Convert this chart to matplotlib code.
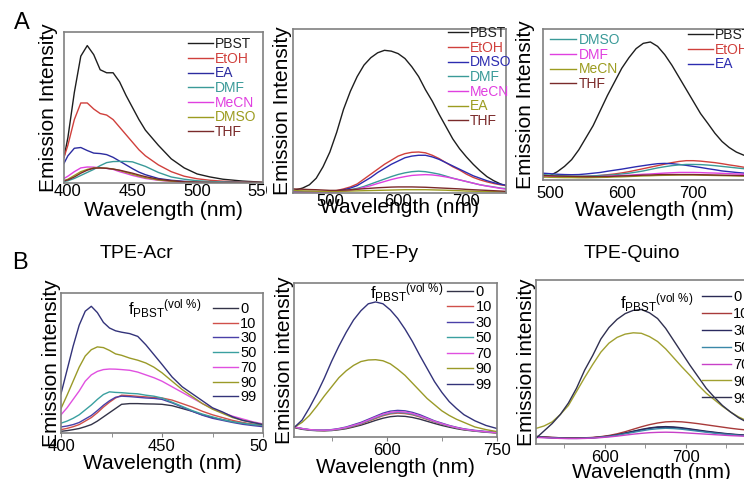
import matplotlib
matplotlib.use('Agg')
import matplotlib.pyplot as plt
from matplotlib.transforms import Bbox, TransformedBbox

plt.rcParams['font.family'] = ['Liberation Sans', 'DejaVu Sans']
plt.rcParams['mathtext.fontset'] = 'custom'
plt.rcParams['mathtext.rm'] = 'Liberation Sans'
plt.rcParams['mathtext.it'] = 'Liberation Sans:italic'

#%% Data (intensities in % of each panel height)
# A, left: TPE-Acr in solvents
acr_solv_wl = [397, 400, 405, 410, 415, 420, 425, 430, 435, 440, 445, 450, 455, 460, 470, 480, 490, 500, 510, 520, 535, 551]
acr_pbst = [17, 30, 60, 84, 91, 85, 75, 73, 73, 67, 58, 50, 42, 35, 25, 16, 10, 6, 4, 2.5, 1.3, 0.5]
acr_etoh = [17, 25, 42, 53, 53, 49, 46, 45, 42, 37, 32, 27, 22, 18, 12, 7.5, 4.5, 2.8, 1.8, 1.2, 0.7, 0.3]
acr_ea = [13, 18, 23, 23.5, 21.5, 19.8, 19.5, 18.8, 17, 14.5, 12, 9.5, 7.2, 5.5, 3, 1.8, 1.1, 0.7, 0.5, 0.4, 0.3, 0.2]
acr_dmf = [1, 1.5, 3, 5, 7, 9, 11.5, 13.5, 14.2, 14.3, 14.3, 14, 12.5, 11, 7, 4, 2.5, 1.5, 1, 0.6, 0.4, 0.2]
acr_mecn = [3, 4.5, 7.5, 10, 10.6, 10.5, 10, 9.7, 9, 7.5, 6.3, 5, 4, 3, 1.8, 1, 0.6, 0.4, 0.3, 0.2, 0.1, 0.1]
acr_dmso = [1.5, 2.5, 5, 7.5, 9, 10, 10, 9.8, 9.3, 8.3, 7, 5.8, 4.6, 3.5, 2, 1.2, 0.7, 0.4, 0.3, 0.2, 0.1, 0.1]
acr_thf = [1.5, 2, 4, 6.5, 8.5, 9.8, 10, 9.7, 9.2, 8.5, 7.5, 6.5, 5.3, 4.2, 2.5, 1.5, 0.8, 0.5, 0.3, 0.2, 0.1, 0.1]

# A, middle: TPE-Py in solvents
py_solv_wl = [446, 460, 470, 480, 490, 500, 510, 520, 530, 540, 550, 560, 570, 580, 590, 600,
              610, 620, 630, 640, 650, 660, 670, 680, 690, 700, 710, 720, 730, 740, 750, 758]
py_pbst = [1.5, 3, 5, 9, 16, 25, 37, 51, 62, 71, 78, 82.5, 85.5, 87, 86.5, 85,
           82, 77, 71, 63, 56, 48, 40.5, 33, 27, 22, 17.5, 13.5, 10, 7.5, 5.5, 4.5]
py_etoh = [1, 0.9, 0.8, 0.8, 0.9, 1, 1.5, 2.5, 3.7, 5.5, 8.5, 11.5, 14.5, 17.5, 20, 22.5,
           24, 24.8, 25, 24.5, 23, 21, 18.5, 16, 14, 11.5, 9.5, 8, 6.8, 5.8, 5, 4.5]
py_dmso = [1, 0.8, 0.6, 0.6, 0.7, 0.8, 1.2, 2, 3, 4.5, 7, 9.5, 12.5, 15, 17.5, 19.5,
           21.5, 22.5, 23, 23, 22, 20.5, 18.5, 16.5, 14.5, 12.5, 10.5, 9, 7.5, 6.3, 5.3, 4.7]
py_dmf = [0.5, 0.5, 0.5, 0.5, 0.5, 0.5, 0.8, 1.2, 2, 2.8, 4, 5.5, 7, 8.5, 10, 11.3,
          12.3, 13, 13.3, 13, 12.3, 11.5, 10.3, 9, 8, 7, 6, 5, 4.3, 3.7, 3, 2.7]
py_mecn = [0.5, 0.4, 0.4, 0.4, 0.4, 0.4, 0.6, 1, 1.6, 2.3, 3.4, 4.5, 5.8, 7, 8.2, 9.2,
           10, 10.7, 11, 11.2, 11, 10.5, 9.8, 9, 8, 7, 6, 5, 4.2, 3.5, 2.8, 2.3]
py_ea = [1.5, 1.3, 1.2, 1.1, 1, 1, 1, 1.1, 1.2, 1.3, 1.4, 1.5, 1.6, 1.7, 1.8, 1.9,
         2, 2, 2, 2, 1.9, 1.8, 1.7, 1.5, 1.4, 1.2, 1.1, 1, 0.9, 0.8, 0.7, 0.6]
py_thf = [2.5, 2.3, 2.1, 2, 1.8, 1.6, 1.6, 1.8, 2, 2.3, 2.6, 2.9, 3.2, 3.4, 3.6, 3.7,
          3.7, 3.7, 3.6, 3.5, 3.3, 3.1, 2.9, 2.7, 2.5, 2.2, 2, 1.8, 1.6, 1.4, 1.2, 1]

# A, right: TPE-Quino in solvents
qu_solv_wl = [490, 500, 510, 520, 530, 540, 550, 560, 570, 580, 590, 600, 610, 620, 630, 640,
              650, 660, 670, 680, 690, 700, 710, 720, 730, 740, 750, 760, 770, 780, 800]
qu_pbst = [2, 3, 5.5, 9, 13.5, 20, 28, 36, 46, 56, 65, 74, 81, 87, 90.5, 91.4,
           88.5, 83, 76, 68, 60, 52, 44, 37.6, 31, 25.5, 21.5, 18.5, 16.5, 15, 12]
qu_etoh = [3, 2.8, 2.5, 2.4, 2.3, 2.3, 2.5, 2.7, 3, 3.5, 4, 4.7, 5.5, 6.5, 7.5, 8.5,
           9.5, 10.5, 11.5, 12.3, 12.8, 12.8, 12.5, 12, 11.5, 10.8, 10, 9.3, 8.5, 7.8, 6.5]
qu_ea = [4.5, 4.2, 3.8, 3.6, 3.5, 3.6, 4, 4.5, 5, 5.8, 6.5, 7.2, 8, 8.8, 9.5, 10.2,
         10.8, 11, 10.8, 10.3, 9.7, 9, 8.3, 7.5, 6.8, 6, 5.5, 5, 4.6, 4.2, 3.5]
qu_dmso = [3.5, 3.3, 3, 2.8, 2.5, 2.5, 2.5, 2.7, 3, 3.2, 3.5, 4, 4.5, 5.2, 6, 7,
           8, 8.8, 9.5, 10, 10.3, 10.3, 10.2, 9.9, 9.5, 9, 8.5, 8, 7.5, 7, 6]
qu_dmf = [2.5, 2.3, 2.1, 2, 2, 2, 2, 2.1, 2.3, 2.5, 2.8, 3, 3.2, 3.5, 3.8, 4,
          4.3, 4.6, 4.8, 5, 5, 5, 4.9, 4.7, 4.6, 4.4, 4.2, 4, 3.8, 3.5, 3]
qu_mecn = [2, 1.8, 1.7, 1.6, 1.6, 1.5, 1.5, 1.6, 1.7, 1.8, 2, 2.1, 2.3, 2.5, 2.7, 2.8,
           3, 3.1, 3.2, 3.3, 3.3, 3.3, 3.2, 3.1, 3, 2.9, 2.8, 2.7, 2.6, 2.5, 2.2]
qu_thf = [3, 2.8, 2.6, 2.5, 2.4, 2.3, 2.2, 2.2, 2.3, 2.3, 2.5, 2.7, 2.8, 3, 3.2, 3.3,
          3.5, 3.6, 3.6, 3.6, 3.6, 3.6, 3.5, 3.4, 3.3, 3.2, 3.1, 3, 2.9, 2.8, 2.5]

# B, left: TPE-Acr vs PBST fraction
acr_f_wl = [400, 403, 406, 409, 412, 415, 418, 421, 424, 427, 430, 434, 438, 442, 446, 450,
            455, 460, 465, 470, 475, 480, 485, 490, 495, 500]
acr_f0 = [1.2, 1.7, 2.4, 3.2, 4.5, 6, 8.5, 11.5, 14.5, 17.5, 20.5, 21, 21, 20.8, 20.7, 20.5,
          19.5, 17.5, 15.5, 13, 11, 9.5, 8, 7, 6.2, 5.5]
acr_f10 = [2.4, 3.3, 4.5, 6, 8.5, 11, 14.5, 18.5, 22, 25, 27, 26.7, 26.2, 25.8, 25.3, 25,
           23.5, 21, 18.5, 15.5, 13, 11, 9, 7.5, 6.2, 5]
acr_f30 = [4.3, 5, 6, 7.5, 10, 12.5, 16, 19.8, 23, 25.5, 26.3, 26, 25.5, 25, 24.7, 24,
           21.5, 18.5, 15.5, 12.7, 10.5, 9, 7.5, 6.2, 5.3, 4.5]
acr_f50 = [7, 8.5, 10.5, 13, 16.5, 20, 24, 27.5, 29.4, 29, 28.8, 28.3, 28, 27, 26.3, 25,
           22, 19, 16, 13.5, 11.5, 9.5, 8, 7, 6, 5.5]
acr_f70 = [13, 18, 24, 30, 37, 41.5, 44, 45.3, 45.7, 45.6, 45.3, 44.8, 43.5, 41.5, 39.5, 37,
           33, 29, 25, 21, 17.5, 14.5, 12, 10, 8, 6.5]
acr_f90 = [17.5, 27, 37, 47, 55, 59.5, 61.5, 61, 59, 56.5, 55.5, 53.5, 52, 50, 47, 43,
           37, 31, 26, 21, 17, 14, 11, 9, 7.5, 6]
acr_f99 = [28, 45, 62, 77, 87, 90.5, 86, 79, 75, 73, 72, 71, 69, 63, 56, 49,
           40, 33, 28, 23, 18, 15, 11.5, 9, 7.5, 6]

# B, middle: TPE-Py vs PBST fraction
py_f_wl = [475, 485, 495, 505, 515, 525, 535, 545, 555, 565, 575, 585, 595, 605, 615, 625,
           635, 645, 655, 665, 675, 685, 695, 705, 720, 735, 750]
py_f0 = [6, 5, 4.4, 4.1, 4, 4.2, 4.7, 5.4, 6.5, 7.7, 9.2, 10.8, 12.2, 13.2, 13.6, 13.4,
         12.7, 11.6, 10.2, 8.8, 7.5, 6.4, 5.4, 4.6, 3.8, 3.1, 2.6]
py_f10 = [6.3, 5.3, 4.6, 4.3, 4.2, 4.4, 5, 5.8, 7, 8.4, 10.2, 12, 13.8, 15, 15.5, 15.2,
          14.4, 13, 11.4, 9.8, 8.3, 7, 5.9, 4.9, 4, 3.3, 2.7]
py_f30 = [6.5, 5.5, 4.8, 4.5, 4.5, 4.8, 5.5, 6.5, 8, 9.5, 11.5, 13.5, 15.5, 16.8, 17.3, 17,
          16, 14.5, 12.5, 10.5, 9, 7.5, 6.3, 5.3, 4.3, 3.6, 3]
py_f50 = [6.5, 5.4, 4.7, 4.4, 4.3, 4.5, 5.1, 6, 7.3, 8.7, 10.6, 12.5, 14.3, 15.5, 16, 15.7,
          14.8, 13.4, 11.7, 10, 8.5, 7.1, 6, 5, 4, 3.3, 2.8]
py_f70 = [6.5, 5.5, 4.8, 4.5, 4.4, 4.6, 5.3, 6.2, 7.6, 9, 11, 13, 14.8, 16, 16.5, 16.2,
          15.3, 13.8, 12, 10.2, 8.7, 7.3, 6.1, 5.1, 4.1, 3.4, 2.8]
py_f90 = [6.5, 9.5, 14, 20, 26.5, 32.5, 38.5, 43, 46.5, 49, 50, 50.2, 49.5, 47.5, 44, 40,
          35, 30, 25, 21, 17, 14, 11.5, 9.5, 6.5, 4.8, 3.5]
py_f99 = [6.5, 11, 19, 28, 38, 49, 59, 68, 76, 82, 86.5, 87.7, 86.5, 82.5, 77, 70,
          62, 53, 44.5, 36, 29, 23, 18.5, 14.5, 10.5, 7.5, 5.5]

# B, right: TPE-Quino vs PBST fraction
qu_f_wl = [515, 525, 535, 545, 555, 565, 575, 585, 595, 605, 615, 625, 635, 645, 655, 665,
           675, 685, 695, 705, 715, 725, 735, 745, 755, 765, 780, 800]
qu_f0 = [4.6, 4.3, 4, 3.8, 3.6, 3.6, 3.7, 3.9, 4.3, 4.9, 5.7, 6.7, 7.8, 8.9, 9.8, 10.4,
         10.6, 10.4, 9.9, 9.2, 8.5, 7.8, 7.2, 6.6, 6.1, 5.7, 5.2, 4.7]
qu_f10 = [4.6, 4.3, 4, 3.8, 3.7, 3.7, 3.8, 4, 4.5, 5.2, 6.2, 7.5, 9, 10.5, 11.8, 12.8,
          13.5, 13.7, 13.5, 13, 12.4, 11.7, 11, 10.3, 9.6, 9, 8.3, 7.5]
qu_f30 = [4.4, 4.1, 3.8, 3.6, 3.5, 3.5, 3.6, 3.8, 4.2, 4.8, 5.6, 6.6, 7.6, 8.6, 9.5, 10.1,
          10.2, 10, 9.5, 8.9, 8.2, 7.5, 6.9, 6.4, 5.9, 5.5, 5, 4.5]
qu_f50 = [4.2, 4, 3.7, 3.5, 3.4, 3.4, 3.5, 3.7, 4.1, 4.6, 5.3, 6.2, 7.1, 8, 8.8, 9.3,
          9.6, 9.4, 9, 8.4, 7.8, 7.2, 6.6, 6.1, 5.7, 5.3, 4.8, 4.3]
qu_f70 = [4, 3.8, 3.6, 3.4, 3.3, 3.3, 3.4, 3.6, 3.9, 4.3, 4.8, 5.4, 6, 6.5, 6.9, 7.1,
          7.2, 7.1, 6.9, 6.6, 6.3, 6, 5.7, 5.4, 5.1, 4.9, 4.6, 4.3]
qu_f90 = [9.5, 11, 13.5, 18, 23.5, 32, 40.5, 48.5, 56, 61.5, 65, 67, 67.8, 67.5, 65.5, 62.5,
          58, 52.5, 47, 41.8, 36, 31, 27, 23, 19.5, 16.5, 13, 9]
qu_f99 = [3.5, 8, 12.5, 18, 25, 34, 45, 54, 64, 71, 76, 79.5, 81.5, 82, 80, 76.5,
          70.5, 63, 55.5, 48, 41, 34, 28.5, 23.5, 19.5, 16, 12, 8]

frac_labels = ['0', '10', '30', '50', '70', '90', '99']

frac_colors = ['#333348', '#d0504a', '#4a40a8', '#3aa0a0', '#e050e0', '#9a9a28', '#33337a']
frac_colors_q = ['#2a2a55', '#a83a3a', '#2a2a60', '#3a88a8', '#c840c8', '#a0a030', '#303050']

#%% Figure
W, H = 744, 479
fig = plt.figure(figsize=(W / 100, H / 100), dpi=100)


def px_axes(l, t, r, b):
    """axes from pixel box (left, top, right, bottom), y measured from top"""
    return fig.add_axes([l / W, 1 - b / H, (r - l) / W, (b - t) / H])


def style(ax, xlim, ticks, ylabel, xpad, ypad, minor=None, tlen=0, tpad=1):
    ax.set_xlim(*xlim)
    ax.set_ylim(0, 100)
    ax.set_xticks(ticks)
    if minor is not None:
        ax.set_xticks(minor, minor=True)
    ax.set_yticks([])
    for s in ax.spines.values():
        s.set_color('#808080')
        s.set_linewidth(1.2)
    ax.tick_params(axis='x', which='both', labelsize=12, pad=tpad, length=tlen,
                   direction='out', color='#808080')
    ax.set_xlabel('Wavelength (nm)', fontsize=15, labelpad=xpad)
    ax.set_ylabel(ylabel, fontsize=15, labelpad=ypad)


def leg(ax, handles, labels, x, y, hl, fs=10, ls=0.05, colored=True):
    lg = ax.legend(handles, labels, loc='upper left', bbox_to_anchor=(x / W, 1 - y / H),
                   bbox_transform=fig.transFigure, frameon=False, fontsize=fs,
                   handlelength=hl, handletextpad=0.15, labelspacing=ls,
                   borderpad=0, borderaxespad=0,
                   labelcolor='linecolor' if colored else None)
    return lg


def clip_ticklabels(ax, xmax):
    box = TransformedBbox(Bbox.from_extents(0, 0, xmax / W, 1), fig.transFigure)
    for t in ax.xaxis.get_major_ticks():
        t.label1.set_clip_box(box)
        t.label1.set_clip_on(True)


lw = 1.0

# ---- A left
ax = px_axes(64, 32, 263, 183)
names = ['PBST', 'EtOH', 'EA', 'DMF', 'MeCN', 'DMSO', 'THF']
cols = ['#1e1e1e', '#d0403c', '#2c2ca0', '#3a9a98', '#e040e0', '#9c9c20', '#7a2a2a']
series = [acr_pbst, acr_etoh, acr_ea, acr_dmf, acr_mecn, acr_dmso, acr_thf]
hs = []
for name, c, y in zip(names, cols, series):
    hs += ax.plot(acr_solv_wl, y, color=c, lw=lw)
style(ax, (397, 551), [400, 450, 500, 550], 'Emission Intensity', 1, 4)
leg(ax, hs, names, 188, 37, 1.8)
clip_ticklabels(ax, 267)

# ---- A middle
ax = px_axes(293, 29, 506, 193)
names = ['PBST', 'EtOH', 'DMSO', 'DMF', 'MeCN', 'EA', 'THF']
cols = ['#1e1e1e', '#d0403c', '#2c2cb0', '#3a9a98', '#e040e0', '#9c9c20', '#7a2a2a']
series = [py_pbst, py_etoh, py_dmso, py_dmf, py_mecn, py_ea, py_thf]
hs = []
for name, c, y in zip(names, cols, series):
    hs += ax.plot(py_solv_wl, y, color=c, lw=lw)
style(ax, (446, 758), [500, 600, 700], 'Emission Intensity', -8, 1)
leg(ax, hs, names, 448, 26, 1.45)

# ---- A right
ax = px_axes(543, 29, 765, 180)
names = ['PBST', 'EtOH', 'EA', 'DMSO', 'DMF', 'MeCN', 'THF']
cols = ['#1e1e1e', '#d0403c', '#2c2cb0', '#3a9a98', '#e040e0', '#9c9c20', '#7a2a2a']
series = [qu_pbst, qu_etoh, qu_ea, qu_dmso, qu_dmf, qu_mecn, qu_thf]
hs = []
for name, c, y in zip(names, cols, series):
    hs += ax.plot(qu_solv_wl, y, color=c, lw=lw)
style(ax, (490, 800), [500, 600, 700, 800], 'Emission Intensity', 0, 6, tpad=4)
lg1 = leg(ax, hs[3:], names[3:], 550, 33, 1.9)
ax.add_artist(lg1)
leg(ax, hs[:3], names[:3], 688, 28, 1.8)

# ---- B panels
bpanels = [
    ((61, 293, 263, 433), acr_f_wl, [acr_f0, acr_f10, acr_f30, acr_f50, acr_f70, acr_f90, acr_f99],
     (400, 500), [400, 450, 500], [425, 475], frac_colors, (213, 302), 1.7, (128, 309), 0.05, 0),
    ((294, 283, 497, 437), py_f_wl, [py_f0, py_f10, py_f30, py_f50, py_f70, py_f90, py_f99],
     (474, 750), [600, 750], [525, 675], frac_colors, (447, 285), 1.8, (370, 293), 0.1, 0),
    ((536, 280, 767, 444), qu_f_wl, [qu_f0, qu_f10, qu_f30, qu_f50, qu_f70, qu_f90, qu_f99],
     (515, 800), [600, 700, 800], [550, 650, 750], frac_colors_q, (702, 290), 2.0, (620, 303), 0.2, -1),
]
for i, (box, wl, ys, xl, tk, mn, cs, lpos, hl, fpos, lsp, xp) in enumerate(bpanels):
    ax = px_axes(*box)
    hs = []
    for c, y in zip(cs, ys):
        hs += ax.plot(wl, y, color=c, lw=lw)
    style(ax, xl, tk, 'Emission intensity', xp, 0, minor=mn, tlen=3)
    leg(ax, hs, frac_labels, lpos[0], lpos[1], hl, fs=10.5, ls=lsp, colored=False)
    fig.text(fpos[0] / W, 1 - fpos[1] / H, r'f$_{\mathrm{PBST}}$$^{\mathrm{(vol\ \%)}}$',
             fontsize=12, ha='left', va='center')
    if i == 0:
        clip_ticklabels(ax, 268)

# titles and panel letters
for txt, xc in [('TPE-Acr', 137), ('TPE-Py', 385), ('TPE-Quino', 632)]:
    fig.text(xc / W, 1 - 253 / H, txt, fontsize=14, ha='center', va='center')
fig.text(22 / W, 1 - 23 / H, 'A', fontsize=17, ha='center', va='center')
fig.text(20 / W, 1 - 263 / H, 'B', fontsize=17, ha='center', va='center')

fig.savefig('out.png', dpi=100)
